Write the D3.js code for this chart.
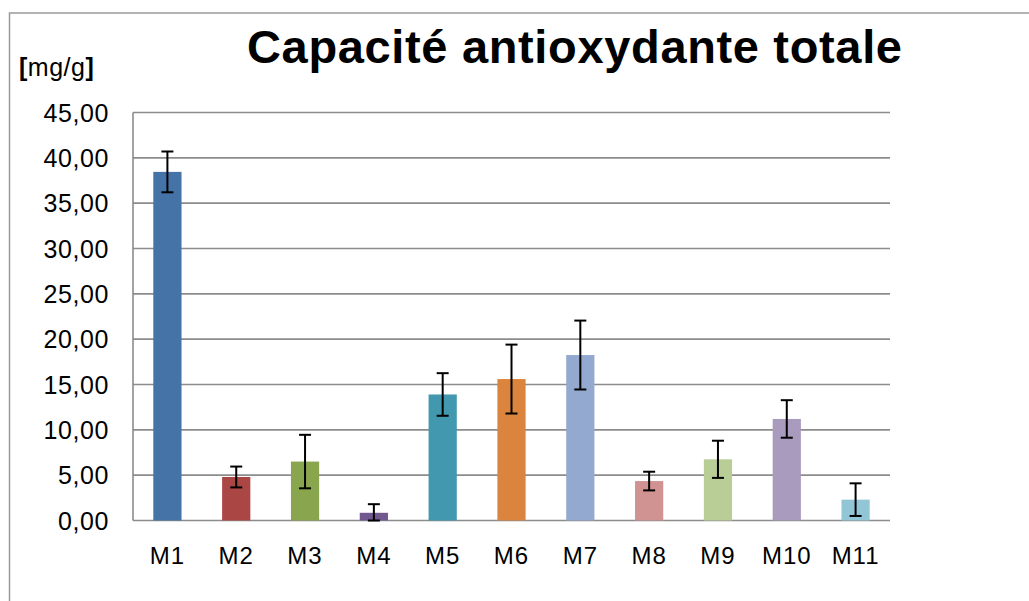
<!DOCTYPE html>
<html>
<head>
<meta charset="utf-8">
<script src="https://cdn.jsdelivr.net/npm/d3@7"></script>
<style>
  body { margin: 0; background: #fff; }
  text { font-family: "Liberation Sans", Arial, Helvetica, sans-serif; fill: #000; }
</style>
</head>
<body>
<svg></svg>
<script>
let svgWidth = 1029
let svgHeight = 601

// data
const samples = ['M1', 'M2', 'M3', 'M4', 'M5', 'M6', 'M7', 'M8', 'M9', 'M10', 'M11']
const values = [38.45, 4.8, 6.5, 0.85, 13.9, 15.6, 18.25, 4.35, 6.75, 11.2, 2.3]
const errors = [2.25, 1.15, 2.95, 0.95, 2.35, 3.8, 3.8, 1.03, 2.05, 2.07, 1.8]
const barColors = ['#4572a7', '#aa4643', '#89a54e', '#71588f', '#4198af', '#db843d',
                   '#93a9cf', '#d19392', '#b9cd96', '#a99bbd', '#92c5d6']
const yTicks = [0, 5, 10, 15, 20, 25, 30, 35, 40, 45]

let margin = {left: 133, top: 112.5, right: 139, bottom: 80.5}

let svg = d3.select('svg')
    .attr('width', svgWidth)
    .attr('height', svgHeight)

// chart frame (runs off the right / bottom of the picture)
svg.append('rect')
    .attr('x', 9.5).attr('y', 13)
    .attr('width', 1100).attr('height', 700)
    .attr('fill', 'none')
    .attr('stroke', '#9a9a9a')
    .attr('stroke-width', 1.5)

const xScale = d3.scaleBand()
    .domain(samples)
    .range([margin.left, svgWidth - margin.right])
    .padding(0)

const yScale = d3.scaleLinear()
    .domain([0, 45])
    .range([svgHeight - margin.bottom, margin.top])

const barW = xScale.bandwidth() * 0.41

// gridlines
svg.append('g').selectAll('line').data(yTicks)
    .enter()
    .append('line')
    .attr('x1', margin.left)
    .attr('x2', svgWidth - margin.right)
    .attr('y1', d => yScale(d))
    .attr('y2', d => yScale(d))
    .attr('stroke', '#8c8c8c')
    .attr('stroke-width', 1.6)

// y axis line
svg.append('line')
    .attr('x1', margin.left).attr('x2', margin.left)
    .attr('y1', yScale(45)).attr('y2', yScale(0))
    .attr('stroke', '#8c8c8c')
    .attr('stroke-width', 1.6)

// y tick labels
svg.append('g').selectAll('text').data(yTicks)
    .enter()
    .append('text')
    .attr('x', 109)
    .attr('y', d => yScale(d) + 9)
    .attr('text-anchor', 'end')
    .style('font-size', '25px')
    .style('letter-spacing', '0.6px')
    .text(d => d3.format('.2f')(d).replace('.', ','))

// bars
svg.append('g').selectAll('rect').data(values)
    .enter()
    .append('rect')
    .attr('x', (d, i) => xScale(samples[i]) + xScale.bandwidth() / 2 - barW / 2)
    .attr('y', d => yScale(d))
    .attr('width', barW)
    .attr('height', d => yScale(0) - yScale(d))
    .attr('fill', (d, i) => barColors[i])

// error bars
let eb = svg.append('g').selectAll('g').data(values)
    .enter()
    .append('g')
    .attr('transform', (d, i) => `translate(${xScale(samples[i]) + xScale.bandwidth() / 2},0)`)

eb.append('line')
    .attr('y1', (d, i) => yScale(d + errors[i]))
    .attr('y2', (d, i) => yScale(Math.max(0, d - errors[i])))
    .attr('stroke', '#000').attr('stroke-width', 2)
eb.append('line')
    .attr('x1', -6).attr('x2', 6)
    .attr('y1', (d, i) => yScale(d + errors[i]))
    .attr('y2', (d, i) => yScale(d + errors[i]))
    .attr('stroke', '#000').attr('stroke-width', 2)
eb.append('line')
    .attr('x1', -6).attr('x2', 6)
    .attr('y1', (d, i) => yScale(Math.max(0, d - errors[i])))
    .attr('y2', (d, i) => yScale(Math.max(0, d - errors[i])))
    .attr('stroke', '#000').attr('stroke-width', 2)

// x labels
svg.append('g').selectAll('text').data(samples)
    .enter()
    .append('text')
    .attr('x', d => xScale(d) + xScale.bandwidth() / 2)
    .attr('y', 564)
    .attr('text-anchor', 'middle')
    .style('font-size', '24px')
    .style('letter-spacing', '1px')
    .text(d => d)

// unit label
let unit = svg.append('text')
    .attr('x', 19)
    .attr('y', 76)
    .style('font-size', '25px')
    .style('letter-spacing', '0.5px')
unit.append('tspan').style('font-weight', 'bold').text('[')
unit.append('tspan').text('mg/g')
unit.append('tspan').style('font-weight', 'bold').text(']')

// title
svg.append('text')
    .attr('x', 247)
    .attr('y', 63)
    .attr('textLength', 655)
    .attr('lengthAdjust', 'spacing')
    .style('font-size', '47px')
    .style('font-weight', 'bold')
    .text('Capacité antioxydante totale')
</script>
</body>
</html>
